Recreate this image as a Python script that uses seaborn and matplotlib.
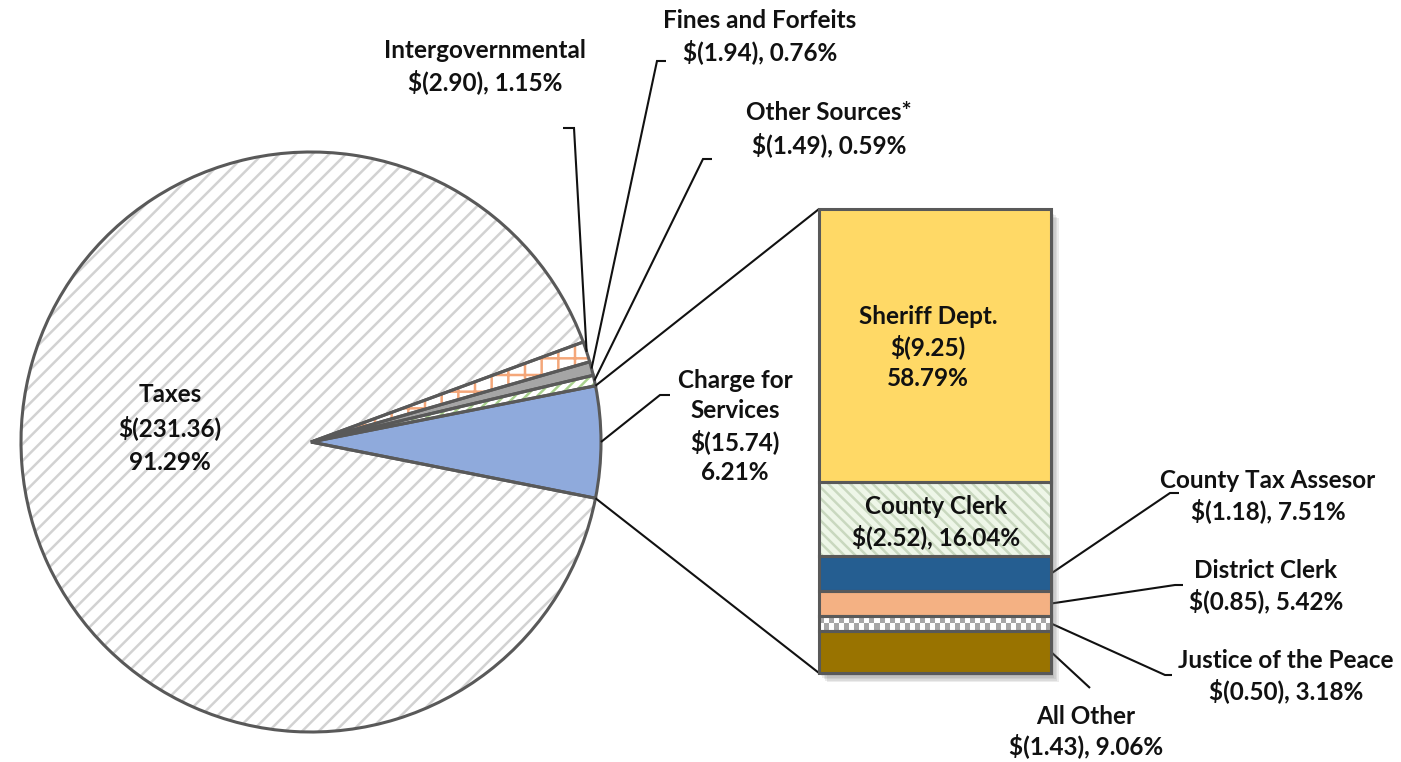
import numpy as np
import matplotlib
matplotlib.use("Agg")
import matplotlib.pyplot as plt
from matplotlib.colors import ListedColormap
import matplotlib.patheffects as pe
import seaborn as sns

# Revenue sources, in pie order (counter-clockwise starting at the right)
src_names = ["Charge for\nServices", "Other Sources*", "Fines and Forfeits",
             "Intergovernmental", "Taxes"]
src_values = [15.74, 1.49, 1.94, 2.90, 231.36]
src_pcts = [6.21, 0.59, 0.76, 1.15, 91.29]

# Charge for Services breakdown, bottom to top of the stacked bar
sub_names = ["All Other", "Justice of the Peace", "District Clerk",
             "County Tax Assesor", "County Clerk", "Sheriff Dept."]
sub_values = [1.43, 0.50, 0.85, 1.18, 2.52, 9.25]
sub_pcts = [9.06, 3.18, 5.42, 7.51, 16.04, 58.79]

W, H = 1401, 762

sns.set_theme(style="white")
plt.rcParams["font.family"] = ["Lato", "DejaVu Sans"]
plt.rcParams["hatch.linewidth"] = 1.8

fig = plt.figure(figsize=(W / 100, H / 100), dpi=100)
ax = fig.add_axes([0, 0, 1, 1])


def Y(y):
    return H - y


def money(v):
    return f"$({v:.2f})"


def label(x, y0, lines, dy=31, size=17.5):
    for i, s in enumerate(lines):
        fig.text(x, Y(y0 + i * dy), s, transform=ax.transData, ha="center",
                 va="center", fontsize=size, fontweight="bold", color="#111111",
                 zorder=10)


def leader(pts):
    ax.plot([p[0] for p in pts], [p[1] for p in pts], color="#111111",
            lw=1.5, solid_capstyle="butt", solid_joinstyle="miter", zorder=5)


# ---- pie -----------------------------------------------------------------
cx, cy, R = 311, Y(442), 290
start = -src_values[0] / sum(src_values) * 360 / 2
fills = ["#8FAADC", "white", "#A5A5A5", "white", "white"]
hatches = [None, "///", None, "+", "//"]
hatch_cols = ["#8FAADC", "#A9D18E", "#A5A5A5", "#F4A77A", "#D2D2D2"]

wedges, _ = ax.pie(src_values, colors=fills, startangle=start,
                   center=(cx, cy), radius=R, wedgeprops=dict(linewidth=0))
for w, h, hc in zip(wedges, hatches, hatch_cols):
    w.set_edgecolor(hc)
    w.set_linewidth(0)
    if h:
        w.set_hatch(h)
ax.pie(src_values, startangle=start, center=(cx, cy), radius=R,
       wedgeprops=dict(fill=False, linewidth=2.2, edgecolor="#595959"))

ax.set_xlim(0, W)
ax.set_ylim(0, H)
ax.set_aspect("equal")
ax.axis("off")


def edge_pt(w, ang):
    a = np.deg2rad(ang)
    return (w.center[0] + w.r * np.cos(a), w.center[1] + w.r * np.sin(a))


def mid_pt(w):
    return edge_pt(w, (w.theta1 + w.theta2) / 2)


# ---- stacked bar ---------------------------------------------------------
bx0, by1, bw, bh = 819, 673, 232, 464
ax2 = fig.add_axes([bx0 / W, (H - by1) / H, bw / W, bh / H])
total = sum(sub_values)
ax2.set_xlim(-0.5, 0.5)
ax2.set_ylim(0, total)
ax2.set_xticks([])
ax2.set_yticks([])
for s in ax2.spines.values():
    s.set_visible(False)
ax2.patch.set_facecolor("white")
# soft drop shadow built from a few stacked translucent offsets
shadow = [pe.SimplePatchShadow(offset=(o, -o - 1), shadow_rgbFace="#6f6f6f", alpha=0.13)
          for o in (1.5, 2.5, 3.5, 4.5, 5.5)]
ax2.patch.set_path_effects(shadow + [pe.Normal()])

sub_fill = ["#997300", "white", "#F4B183", "#255E91", "#EEF6E8", "#FFD966"]
sub_hatch = [None, None, None, None, "\\\\\\", None]
sub_hcol = ["#997300", "white", "#F4B183", "#255E91", "#C9D8BF", "#FFD966"]
bottoms = np.concatenate([[0], np.cumsum(sub_values)[:-1]])
fill_bars = ax2.bar([0] * len(sub_values), sub_values, bottom=bottoms, width=1.0,
                    color=sub_fill, linewidth=0)
for b, h, hc in zip(fill_bars, sub_hatch, sub_hcol):
    b.set_edgecolor(hc)
    if h:
        b.set_hatch(h)

# checkered fill for the Justice of the Peace band
jp = fill_bars[1]
checker = np.indices((2, 46)).sum(axis=0) % 2
im = ax2.imshow(checker, cmap=ListedColormap(["#A6A6A6", "white"]), aspect="auto",
                extent=(jp.get_x(), jp.get_x() + jp.get_width(), jp.get_y(), jp.get_y() + jp.get_height()),
                interpolation="nearest", zorder=2)
im.set_clip_path(jp)

ax2.bar([0] * len(sub_values), sub_values, bottom=bottoms, width=1.0, fill=False,
        edgecolor="#595959", linewidth=2.2, clip_on=False, zorder=3)


def bar_pt(x, y):
    return tuple(ax2.transData.transform((x, y)))


# connectors from the Charge for Services wedge to the bar
cw = wedges[0]
leader([edge_pt(cw, cw.theta2), bar_pt(-0.5, total)])
leader([edge_pt(cw, cw.theta1), bar_pt(-0.5, 0)])

# ---- pie labels ----------------------------------------------------------
label(170, 394, ["Taxes", money(src_values[4]), f"{src_pcts[4]:.2f}%"], dy=34)
label(485, 50, ["Intergovernmental", f"{money(src_values[3])}, {src_pcts[3]:.2f}%"], dy=32)
leader([mid_pt(wedges[3]), (574, Y(128)), (563, Y(128))])
label(760, 20, ["Fines and Forfeits", f"{money(src_values[2])}, {src_pcts[2]:.2f}%"], dy=32)
leader([mid_pt(wedges[2]), (657, Y(61)), (666, Y(61))])
label(829, 113, ["Other Sources*", f"{money(src_values[1])}, {src_pcts[1]:.2f}%"], dy=32)
leader([mid_pt(wedges[1]), (703, Y(159)), (712, Y(159))])
label(735, 380, src_names[0].split("\n") + [money(src_values[0]), f"{src_pcts[0]:.2f}%"], dy=31)
leader([mid_pt(wedges[0]), (660, Y(395)), (670, Y(395))])

# ---- bar labels ----------------------------------------------------------
label(928, 316, [sub_names[5], money(sub_values[5]), f"{sub_pcts[5]:.2f}%"], dy=31)
label(936, 506, [sub_names[4], f"{money(sub_values[4])}, {sub_pcts[4]:.2f}%"], dy=31)

mids = bottoms + np.array(sub_values) / 2
label(1268, 480, [sub_names[3], f"{money(sub_values[3])}, {sub_pcts[3]:.2f}%"], dy=31)
leader([bar_pt(0.5, mids[3]), (1170, Y(493)), (1179, Y(493))])
label(1266, 570, [sub_names[2], f"{money(sub_values[2])}, {sub_pcts[2]:.2f}%"], dy=31)
leader([bar_pt(0.5, mids[2]), (1175, Y(585)), (1183, Y(585))])
label(1286, 660, [sub_names[1], f"{money(sub_values[1])}, {sub_pcts[1]:.2f}%"], dy=31)
leader([bar_pt(0.5, mids[1]), (1165, Y(675)), (1172, Y(675))])
label(1086, 716, [sub_names[0], f"{money(sub_values[0])}, {sub_pcts[0]:.2f}%"], dy=30)
leader([bar_pt(0.5, mids[0]), (1090, Y(688))])

fig.savefig("out.png", dpi=100, facecolor="white")
